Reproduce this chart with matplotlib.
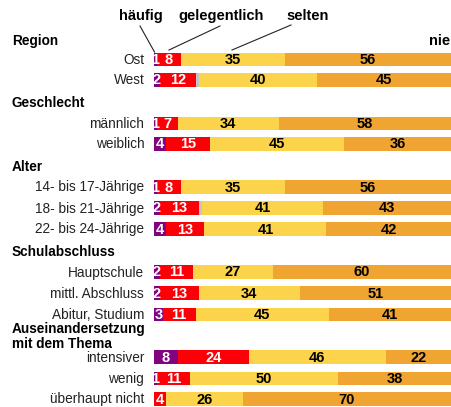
import numpy as np
import matplotlib.pyplot as plt
from matplotlib.transforms import blended_transform_factory

plt.rcParams['font.family'] = ['Liberation Sans', 'DejaVu Sans']

#=============================================================================
#                               DONNÉES
#=============================================================================

labels = ['Ost', 'West', 'männlich', 'weiblich',
          '14- bis 17-Jährige', '18- bis 21-Jährige', '22- bis 24-Jährige',
          'Hauptschule', 'mittl. Abschluss', 'Abitur, Studium',
          'intensiver', 'wenig', 'überhaupt nicht']

haeufig      = [1, 2, 1, 4, 1, 2, 4, 2, 2, 3, 8, 1, 0]
gelegentlich = [8, 12, 7, 15, 8, 13, 13, 11, 13, 11, 24, 11, 4]
keine_angabe = [0, 1, 0, 0, 0, 1, 0, 0, 0, 0, 0, 0, 0]
selten       = [35, 40, 34, 45, 35, 41, 41, 27, 34, 45, 46, 50, 26]
nie          = [56, 45, 58, 36, 56, 43, 42, 60, 51, 41, 22, 38, 70]

groupes = ['Region', 'Geschlecht', 'Alter', 'Schulabschluss',
           'Auseinandersetzung\nmit dem Thema']

#----------------------------------------------------------------------------
# mise en page (pixels depuis le haut)

row_y   = [59.5, 80, 123.5, 144, 187, 208, 229, 272, 293, 314.5, 357, 378.5, 399]
group_y = [41, 103, 167, 252, 336.5]

c_haeufig = '#82037f'
c_gelegentlich = '#fb0007'
c_keine = '#c4c4c4'
c_selten = '#fcd44b'
c_nie = '#f0a532'

#=============================================================================
#                               GRAPHIQUE
#=============================================================================

fig = plt.figure(figsize=(4.51, 4.07), dpi=100)
ax = fig.add_axes([154 / 451, 0, 297 / 451, 1])
ax.set_xlim(0, 100)
ax.set_ylim(407, 0)
ax.axis('off')

series = [(haeufig, c_haeufig, 'white'),
          (gelegentlich, c_gelegentlich, 'white'),
          (keine_angabe, c_keine, None),
          (selten, c_selten, 'black'),
          (nie, c_nie, 'black')]

left = np.zeros(len(labels))
for vals, col, tcol in series:
    vals = np.array(vals, dtype=float)
    ax.barh(row_y, vals, left=left, height=13.5, color=col, linewidth=0)
    if tcol is not None:
        for y, l, v in zip(row_y, left, vals):
            if v > 0:
                ax.text(l + v / 2, y + 0.5, str(int(v)), ha='center', va='center',
                        color=tcol, fontsize=10.5, fontweight='bold', clip_on=False)
    left += vals

# étiquettes des lignes
for y, lab in zip(row_y, labels):
    ax.text(-3.3, y + 0.5, lab, ha='right', va='center', fontsize=9.8, color='#222222')

# titres des groupes
tr = blended_transform_factory(fig.transFigure, ax.transData)
for y, g in zip(group_y, groupes):
    ax.text(12 / 451, y, g, transform=tr, ha='left', va='center',
            fontsize=9.8, fontweight='bold', linespacing=1.05)

# légende en haut
ax.text(450 / 451, 41, 'nie', transform=tr, ha='right', va='center',
        fontsize=10.5, fontweight='bold')
for txt, x, (x0, y0), (x1, y1) in [('häufig', 141, (140, 26), (154.5, 52)),
                                   ('gelegentlich', 221, (220, 26), (169, 50)),
                                   ('selten', 308, (291, 25), (232, 50))]:
    ax.text(x / 451, 16, txt, transform=tr, ha='center', va='center',
            fontsize=10.5, fontweight='bold')
    ax.plot([x0 / 451, x1 / 451], [y0, y1], transform=tr, color='#222222',
            linewidth=0.8, clip_on=False)

fig.savefig('out.png', dpi=100)
